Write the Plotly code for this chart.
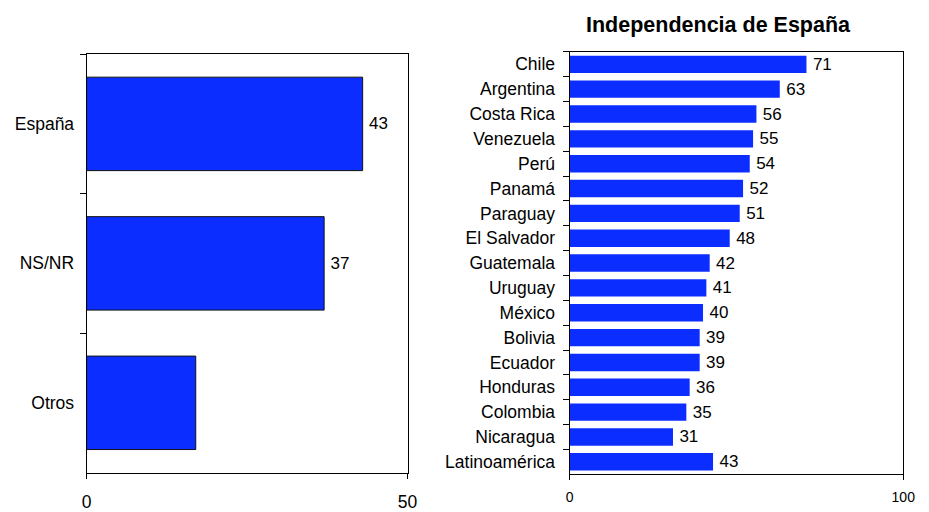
import plotly.graph_objects as go

# Left panel data
left_categories = ["España", "NS/NR", "Otros"]
left_values = [43, 37, 17]
left_show_label = [True, True, False]

# Right panel data
right_title = "Independencia de España"
right_categories = ["Chile", "Argentina", "Costa Rica", "Venezuela", "Perú", "Panamá",
                    "Paraguay", "El Salvador", "Guatemala", "Uruguay", "México", "Bolivia",
                    "Ecuador", "Honduras", "Colombia", "Nicaragua", "Latinoamérica"]
right_values = [71, 63, 56, 55, 54, 52, 51, 48, 42, 41, 40, 39, 39, 36, 35, 31, 43]

left_ticks = [0, 50]
right_ticks = [0, 100]

BLUE = "#0b2dff"
FONT = "Liberation Sans, Arial, Helvetica, sans-serif"
OFF = 8              # page body margin of the browser
FW, FH = 929 - OFF, 512 - OFF


def px_x(a, b):
    return [(a - OFF) / FW, (b - OFF) / FW]


def px_y(top, bottom):
    return [1 - (bottom - OFF) / FH, 1 - (top - OFF) / FH]


TS = "\u2009"  # thin space gap between bar end and value label

fig = go.Figure()

fig.add_trace(go.Bar(
    x=left_values, y=left_categories, orientation="h",
    marker=dict(color=BLUE, line=dict(color="#111111", width=1)),
    width=0.67,
    text=[TS + str(v) if s else "" for v, s in zip(left_values, left_show_label)],
    textposition="outside", textfont=dict(size=17, color="black", family=FONT),
    constraintext="none", cliponaxis=False,
    xaxis="x", yaxis="y", showlegend=False, hoverinfo="x+y",
))

fig.add_trace(go.Bar(
    x=right_values, y=right_categories, orientation="h",
    marker=dict(color=BLUE, line=dict(width=0)),
    width=0.7,
    text=[TS + str(v) for v in right_values],
    textposition="outside", textfont=dict(size=17, color="black", family=FONT),
    constraintext="none", cliponaxis=False,
    xaxis="x2", yaxis="y2", showlegend=False, hoverinfo="x+y",
))

axis_common = dict(showline=True, linecolor="black", linewidth=1, mirror=True,
                   showgrid=False, zeroline=False, ticks="outside", tickcolor="black",
                   tickwidth=1)

fig.update_layout(
    width=FW, height=FH,
    margin=dict(l=0, r=0, t=0, b=0),
    paper_bgcolor="white", plot_bgcolor="white",
    font=dict(family=FONT, color="black"),
    xaxis=dict(domain=px_x(83, 410), range=[0, 50], tickvals=left_ticks,
               ticklen=5, tickfont=dict(size=17.5), ticklabelstandoff=8,
               anchor="y", **axis_common),
    yaxis=dict(domain=px_y(55, 481), type="category",
               categoryorder="array", categoryarray=left_categories,
               autorange="reversed", tickson="boundaries", ticklen=6,
               ticklabelstandoff=8,
               tickfont=dict(size=17.5), anchor="x", **axis_common),
    xaxis2=dict(domain=px_x(575, 915), range=[0, 100], tickvals=right_ticks,
                ticklen=5, tickfont=dict(size=14), ticklabelstandoff=5,
                anchor="y2", **axis_common),
    yaxis2=dict(domain=px_y(52.7, 482.7), type="category",
                categoryorder="array", categoryarray=right_categories,
                autorange="reversed", tickson="boundaries", ticklen=6,
                ticklabelstandoff=10,
                tickfont=dict(size=17.5), anchor="x2", **axis_common),
    annotations=[dict(
        text="<b>" + right_title + "</b>", xref="paper", yref="paper",
        x=(727 - OFF) / FW, y=1 - (25 - OFF) / FH, xanchor="center", yanchor="middle",
        showarrow=False, font=dict(size=21.5, family=FONT, color="black"),
    )],
)

fig.write_html("out.html")
